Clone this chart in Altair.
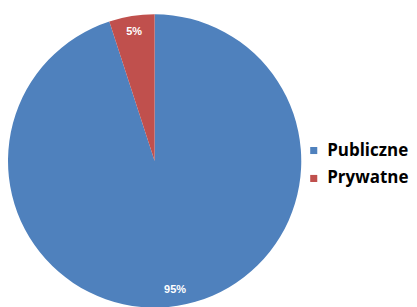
import altair as alt
import pandas as pd

categories = ["Publiczne", "Prywatne"]
values = [95, 5]
labels = ["95%", "5%"]
colors = ["#4F81BD", "#C0504D"]

df = pd.DataFrame({"cat": categories, "val": values, "label": labels, "order": [0, 1]})

base = alt.Chart(df).encode(
    theta=alt.Theta("val:Q", stack=True),
    order=alt.Order("order:Q"),
)

pie = base.mark_arc(radius=147, x=147, y=153).encode(
    color=alt.Color(
        "cat:N",
        scale=alt.Scale(domain=categories, range=colors),
        sort=categories,
        legend=alt.Legend(
            title=None,
            orient="none",
            legendX=298,
            legendY=134,
            symbolType="square",
            symbolSize=50,
            labelFont="Open Sans",
            labelFontWeight="bold",
            labelFontSize=17,
            labelColor="#000000",
            rowPadding=10,
            padding=0,
            labelOffset=5,
        ),
    )
)

text = base.mark_text(radius=131, x=147, y=153, color="white", fontSize=11,
                      fontWeight="bold", font="Liberation Sans").encode(
    text="label:N"
)

chart = (pie + text).properties(width=401, height=291, padding=0).configure_view(stroke=None)

chart.save("out.html", embed_options={"renderer": "svg", "actions": False})
